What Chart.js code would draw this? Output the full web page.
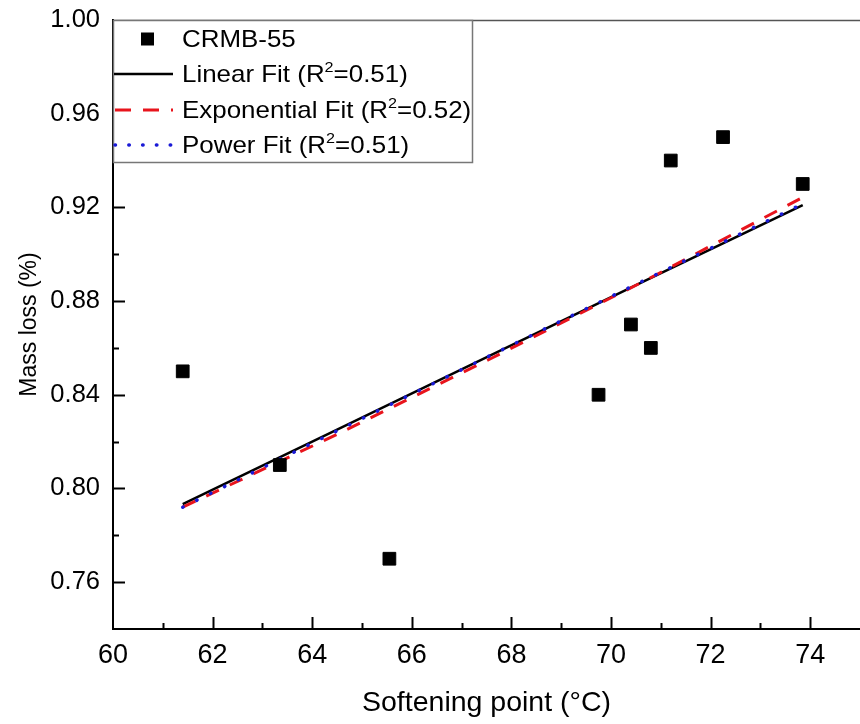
<!DOCTYPE html>
<html>
<head>
<meta charset="utf-8">
<script src="https://cdn.jsdelivr.net/npm/chart.js@4"></script>
<style>
    html, body { margin: 0; padding: 0; background: #fff; overflow: hidden; }
    #wrap { width: 870px; height: 724px; }
</style>
</head>
<body>
<div id="wrap"><canvas id="chart" width="870" height="724"></canvas></div>
<script>
// measured points
const softening = [61.4, 63.35, 65.55, 69.75, 70.4, 70.8, 71.2, 72.25, 73.85];
const massLoss = [0.85, 0.81, 0.77, 0.84, 0.87, 0.86, 0.94, 0.95, 0.93];

// fit curves
const fitX = [61.4, 64.5, 67.6, 70.7, 73.85];
const linearFit = [0.7933, 0.8251, 0.8570, 0.8888, 0.9210];
const expFit = [0.7920, 0.8231, 0.8556, 0.8889, 0.9243];
const powerFit = [0.7920, 0.8246, 0.8570, 0.8892, 0.9215];

const xTicks = [60, 62, 64, 66, 68, 70, 72, 74];
const yTicks = ['0.76', '0.80', '0.84', '0.88', '0.92', '0.96', '1.00'];

const FONT = "'Liberation Sans', Arial, sans-serif";

const toXY = (xs, ys) => xs.map((x, i) => ({ x: x, y: ys[i] }));

// inward tick marks, top frame and the boxed legend
const framePlugin = {
    id: 'frame',
    afterDatasetsDraw(chart) {
        const ctx = chart.ctx;
        const area = chart.chartArea;
        const xs = chart.scales.x;
        const ys = chart.scales.y;

        ctx.save();
        ctx.strokeStyle = '#000';
        ctx.lineWidth = 2;
        xs.ticks.forEach(t => {
            if (t.value <= 60 || t.value >= 75) return;
            const px = Math.round(xs.getPixelForValue(t.value)) + 0.5;
            const len = t.value % 2 === 0 ? 12 : 6;
            ctx.beginPath();
            ctx.moveTo(px, area.bottom);
            ctx.lineTo(px, area.bottom - len);
            ctx.stroke();
        });
        ys.ticks.forEach(t => {
            const v = Math.round(t.value * 100);
            if (v <= 74 || v >= 100) return;
            const py = Math.round(ys.getPixelForValue(t.value)) + 0.5;
            const len = v % 4 === 0 ? 12 : 6;
            ctx.beginPath();
            ctx.moveTo(area.left, py);
            ctx.lineTo(area.left + len, py);
            ctx.stroke();
        });

        // top frame
        ctx.strokeStyle = '#555';
        ctx.lineWidth = 1.5;
        ctx.beginPath();
        ctx.moveTo(area.left, area.top + 0.5);
        ctx.lineTo(area.right, area.top + 0.5);
        ctx.stroke();

        // legend box
        const bx = area.left, by = area.top, bw = 359, bh = 142;
        ctx.fillStyle = '#fff';
        ctx.fillRect(bx, by, bw, bh);
        ctx.strokeStyle = '#777';
        ctx.lineWidth = 1.5;
        ctx.strokeRect(bx + 0.5, by + 0.5, bw, bh);

        const rowY = [39, 74, 110, 145];
        const textX = 182;
        const stretch = 1.08;
        chart.data.datasets.forEach((ds, i) => {
            const y = rowY[i];
            if (ds.showLine === false) {
                ctx.fillStyle = '#000';
                ctx.fillRect(141, y - 6.5, 13, 13);
            } else {
                ctx.strokeStyle = ds.borderColor;
                ctx.lineWidth = ds.borderWidth;
                ctx.lineCap = ds.borderCapStyle || 'butt';
                ctx.setLineDash(ds.legendDash || []);
                ctx.beginPath();
                ctx.moveTo(ds.legendStart || 114, y);
                ctx.lineTo(173, y);
                ctx.stroke();
                ctx.setLineDash([]);
                ctx.lineCap = 'butt';
            }
            // label, with the "²" drawn as a raised small 2
            ctx.save();
            ctx.translate(textX, y);
            ctx.scale(stretch, 1);
            ctx.fillStyle = '#000';
            ctx.textBaseline = 'middle';
            ctx.textAlign = 'left';
            const parts = ds.label.split('²');
            let x = 0;
            ctx.font = '24px ' + FONT;
            ctx.fillText(parts[0], x, 1);
            x += ctx.measureText(parts[0]).width;
            if (parts.length > 1) {
                ctx.font = '15px ' + FONT;
                ctx.fillText('2', x, -6);
                x += ctx.measureText('2').width;
                ctx.font = '24px ' + FONT;
                ctx.fillText(parts[1], x, 1);
            }
            ctx.restore();
        });
        ctx.restore();
    }
};

new Chart(document.getElementById('chart'), {
    type: 'scatter',
    data: {
        datasets: [
            {
                label: 'CRMB-55',
                data: toXY(softening, massLoss),
                showLine: false,
                pointStyle: 'rect',
                pointRadius: 9,
                pointBackgroundColor: '#000',
                pointBorderColor: '#000',
                pointBorderWidth: 1,
                order: 0
            },
            {
                label: 'Linear Fit (R²=0.51)',
                data: toXY(fitX, linearFit),
                showLine: true,
                borderColor: '#000',
                borderWidth: 2.5,
                pointRadius: 0,
                order: 3
            },
            {
                label: 'Exponential Fit (R²=0.52)',
                data: toXY(fitX, expFit),
                showLine: true,
                borderColor: '#e8141c',
                borderWidth: 3,
                borderDash: [14, 12],
                legendDash: [16, 12],
                legendStart: 115,
                pointRadius: 0,
                order: 2
            },
            {
                label: 'Power Fit (R²=0.51)',
                data: toXY(fitX, powerFit),
                showLine: true,
                borderColor: '#1a1ad6',
                borderWidth: 3.5,
                borderCapStyle: 'round',
                borderDash: [0.5, 15],
                legendDash: [0.5, 13.3],
                legendStart: 115,
                pointRadius: 0,
                order: 1
            }
        ]
    },
    options: {
        responsive: false,
        animation: false,
        layout: { padding: { top: 20, right: 0, left: 0, bottom: 0 } },
        plugins: {
            legend: { display: false },
            tooltip: { enabled: false }
        },
        scales: {
            x: {
                type: 'linear',
                min: 60,
                max: 75,
                afterFit: (s) => { s.height = 95; s.paddingLeft = 0; s.paddingRight = 0; },
                grid: { display: false, drawTicks: false },
                border: { display: true, color: '#000', width: 2 },
                ticks: {
                    stepSize: 1,
                    autoSkip: false,
                    maxRotation: 0,
                    padding: 10,
                    color: '#000',
                    font: { family: FONT, size: 27 },
                    callback: (v) => xTicks.includes(v) ? String(v) : ''
                },
                title: {
                    display: true,
                    text: 'Softening point (°C)',
                    color: '#000',
                    font: { family: FONT, size: 28.5 },
                    padding: { top: 0, bottom: 4 }
                }
            },
            y: {
                type: 'linear',
                min: 0.74,
                max: 1.00,
                afterFit: (s) => { s.width = 113; s.paddingTop = 0; s.paddingBottom = 0; },
                grid: { display: false, drawTicks: false },
                border: { display: true, color: '#000', width: 2 },
                ticks: {
                    stepSize: 0.02,
                    autoSkip: false,
                    padding: 13,
                    color: '#000',
                    font: { family: FONT, size: 25.5 },
                    callback: (v) => {
                        const label = v.toFixed(2);
                        return yTicks.includes(label) ? label : '';
                    }
                },
                title: {
                    display: true,
                    text: 'Mass loss (%)',
                    color: '#000',
                    font: { family: FONT, size: 23 },
                    padding: { top: 16, bottom: 0 }
                }
            }
        }
    },
    plugins: [framePlugin]
});
</script>
</body>
</html>
